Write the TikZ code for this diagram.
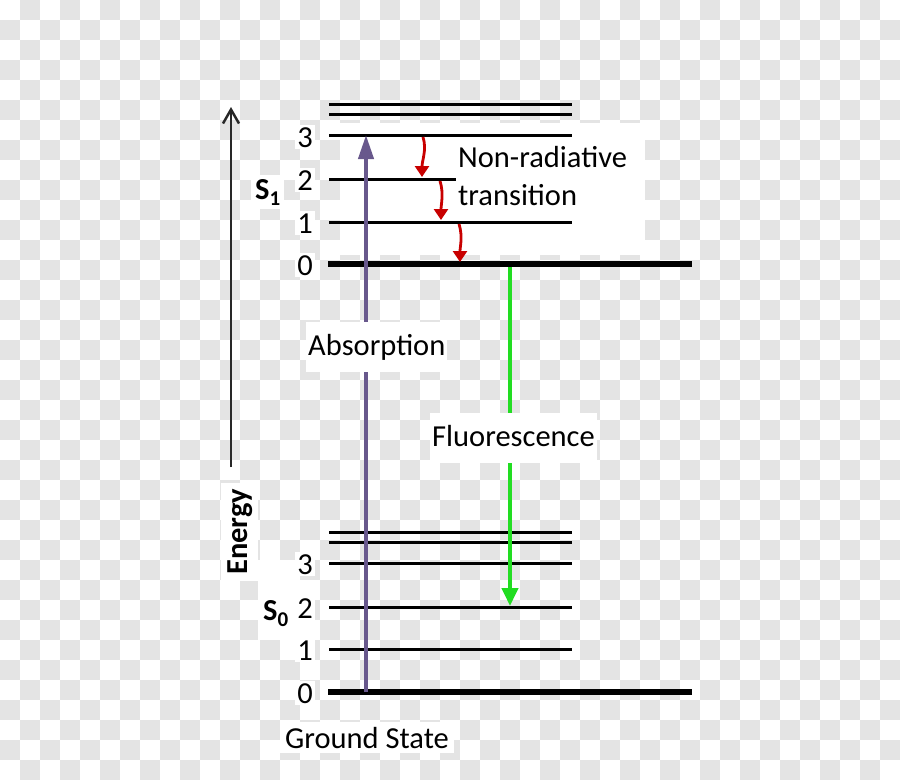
\documentclass[tikz,border=0pt]{standalone}
\usepackage{fontspec}
\setmainfont{Carlito}
\usetikzlibrary{arrows.meta}
\definecolor{chk}{RGB}{228,228,228}
\definecolor{absorb}{RGB}{104,88,140}
\definecolor{fluo}{RGB}{34,221,34}
\definecolor{nonrad}{RGB}{200,0,0}
\definecolor{axis}{RGB}{40,40,40}
\begin{document}
\begin{tikzpicture}[x=1pt,y=-1pt,
  every node/.style={font=\fontsize{30.5}{36}\selectfont, inner sep=0pt},
  lvl/.style={line width=3pt, black},
  gnd/.style={line width=6.5pt, black},
  num/.style={anchor=base east, fill=white, inner sep=2pt},
  lbl/.style={anchor=base west, fill=white, inner xsep=2pt, inner ysep=10pt, text height=23pt, text depth=7pt},
  absarrow/.style={line width=4pt, absorb, -{Triangle[length=24pt,width=15pt]}},
  fluarrow/.style={line width=4pt, fluo, -{Triangle[length=18pt,width=16pt]}},
  nrarrow/.style={line width=2.8pt, nonrad, -{Triangle[length=11pt,width=14pt]}},
  energyarrow/.style={line width=2.5pt, axis, -{Straight Barb[length=14pt,width=16pt]}}
]
\useasboundingbox (0,0) rectangle (900,780);
\fill[white] (0,0) rectangle (900,780);
% transparency checkerboard
\foreach \i in {0,2,...,44}{\foreach \j in {1,3,...,37}{\fill[chk] ({20*\i},{20*\j}) rectangle ++(20,20);}}
\foreach \i in {1,3,...,43}{\foreach \j in {0,2,...,38}{\fill[chk] ({20*\i},{20*\j}) rectangle ++(20,20);}}
% white patches of the original picture
\fill[white] (340,123) rectangle (645,255);
\fill[white] (258,560) rectangle (300,640);

% S1 levels
\draw[lvl] (329,104) -- (572,104);
\draw[lvl] (329,114) -- (572,114);
\draw[lvl] (329,135) -- (572,135);
\draw[lvl] (329,179) -- (572,179);
\draw[lvl] (329,222) -- (572,222);
\draw[gnd] (328,264) -- (692,264);
% S0 levels
\draw[lvl] (329,532) -- (572,532);
\draw[lvl] (329,542) -- (572,542);
\draw[lvl] (329,563) -- (572,563);
\draw[lvl] (329,607) -- (572,607);
\draw[lvl] (329,649) -- (572,649);
\draw[gnd] (328,692) -- (692,692);

% anchor coordinates
\coordinate (g0) at (366,692);
\coordinate (e3) at (366,135);
\coordinate (e0) at (510,267);
\coordinate (g2) at (510,606);
\coordinate (ebot) at (231,467);
\coordinate (etop) at (231,107);
\coordinate (r1a) at (423,137);
\coordinate (r1b) at (422,177);
\coordinate (r2a) at (440,181);
\coordinate (r2b) at (441,220);
\coordinate (r3a) at (459,224);
\coordinate (r3b) at (460,262);

% arrows
\draw[energyarrow] (ebot) -- (etop);
\draw[absarrow] (g0) -- (e3);
\draw[fluarrow] (e0) -- (g2);
\draw[nrarrow] (r1a) .. controls (427,150) and (422,160) .. (r1b);
\draw[nrarrow] (r2a) .. controls (444,194) and (441,204) .. (r2b);
\draw[nrarrow] (r3a) .. controls (463,237) and (460,246) .. (r3b);

% non-radiative label box
\fill[white] (456,140) rectangle (645,217);
\node[anchor=base west] (nr1) at (458,167) {Non-radiative};
\node[anchor=base west] (nr2) at (458,205) {transition};

% level numbers
\node[num] (a3) at (315,147) {3};
\node[num] (a2) at (315,190) {2};
\node[num] (a1) at (315,233) {1};
\node[num] (a0) at (315,275) {0};
\node[num] (b3) at (315,574) {3};
\node[num] (b2) at (315,618) {2};
\node[num] (b1) at (315,660) {1};
\node[num] (b0) at (315,703) {0};

% state labels
\node[anchor=base west, fill=white, inner sep=4pt] (s1) at (251,199) {\textbf{S}\raisebox{-6pt}{\fontsize{21}{21}\selectfont\textbf{1}}};
\node[anchor=base west, fill=white, inner sep=4pt] (s0) at (259,620) {\textbf{S}\raisebox{-6pt}{\fontsize{21}{21}\selectfont\textbf{0}}};

% process labels
\node[lbl] (abs) at (306,355) {Absorption};
\node[lbl] (flu) at (430,446) {Fluorescence};
\node[anchor=base west, fill=white, inner sep=5pt] (gs) at (280,748) {Ground State};
\node[anchor=base west, rotate=90, fill=white, inner sep=6pt] (en) at (247,581) {\textbf{Energy}};
\end{tikzpicture}
\end{document}
